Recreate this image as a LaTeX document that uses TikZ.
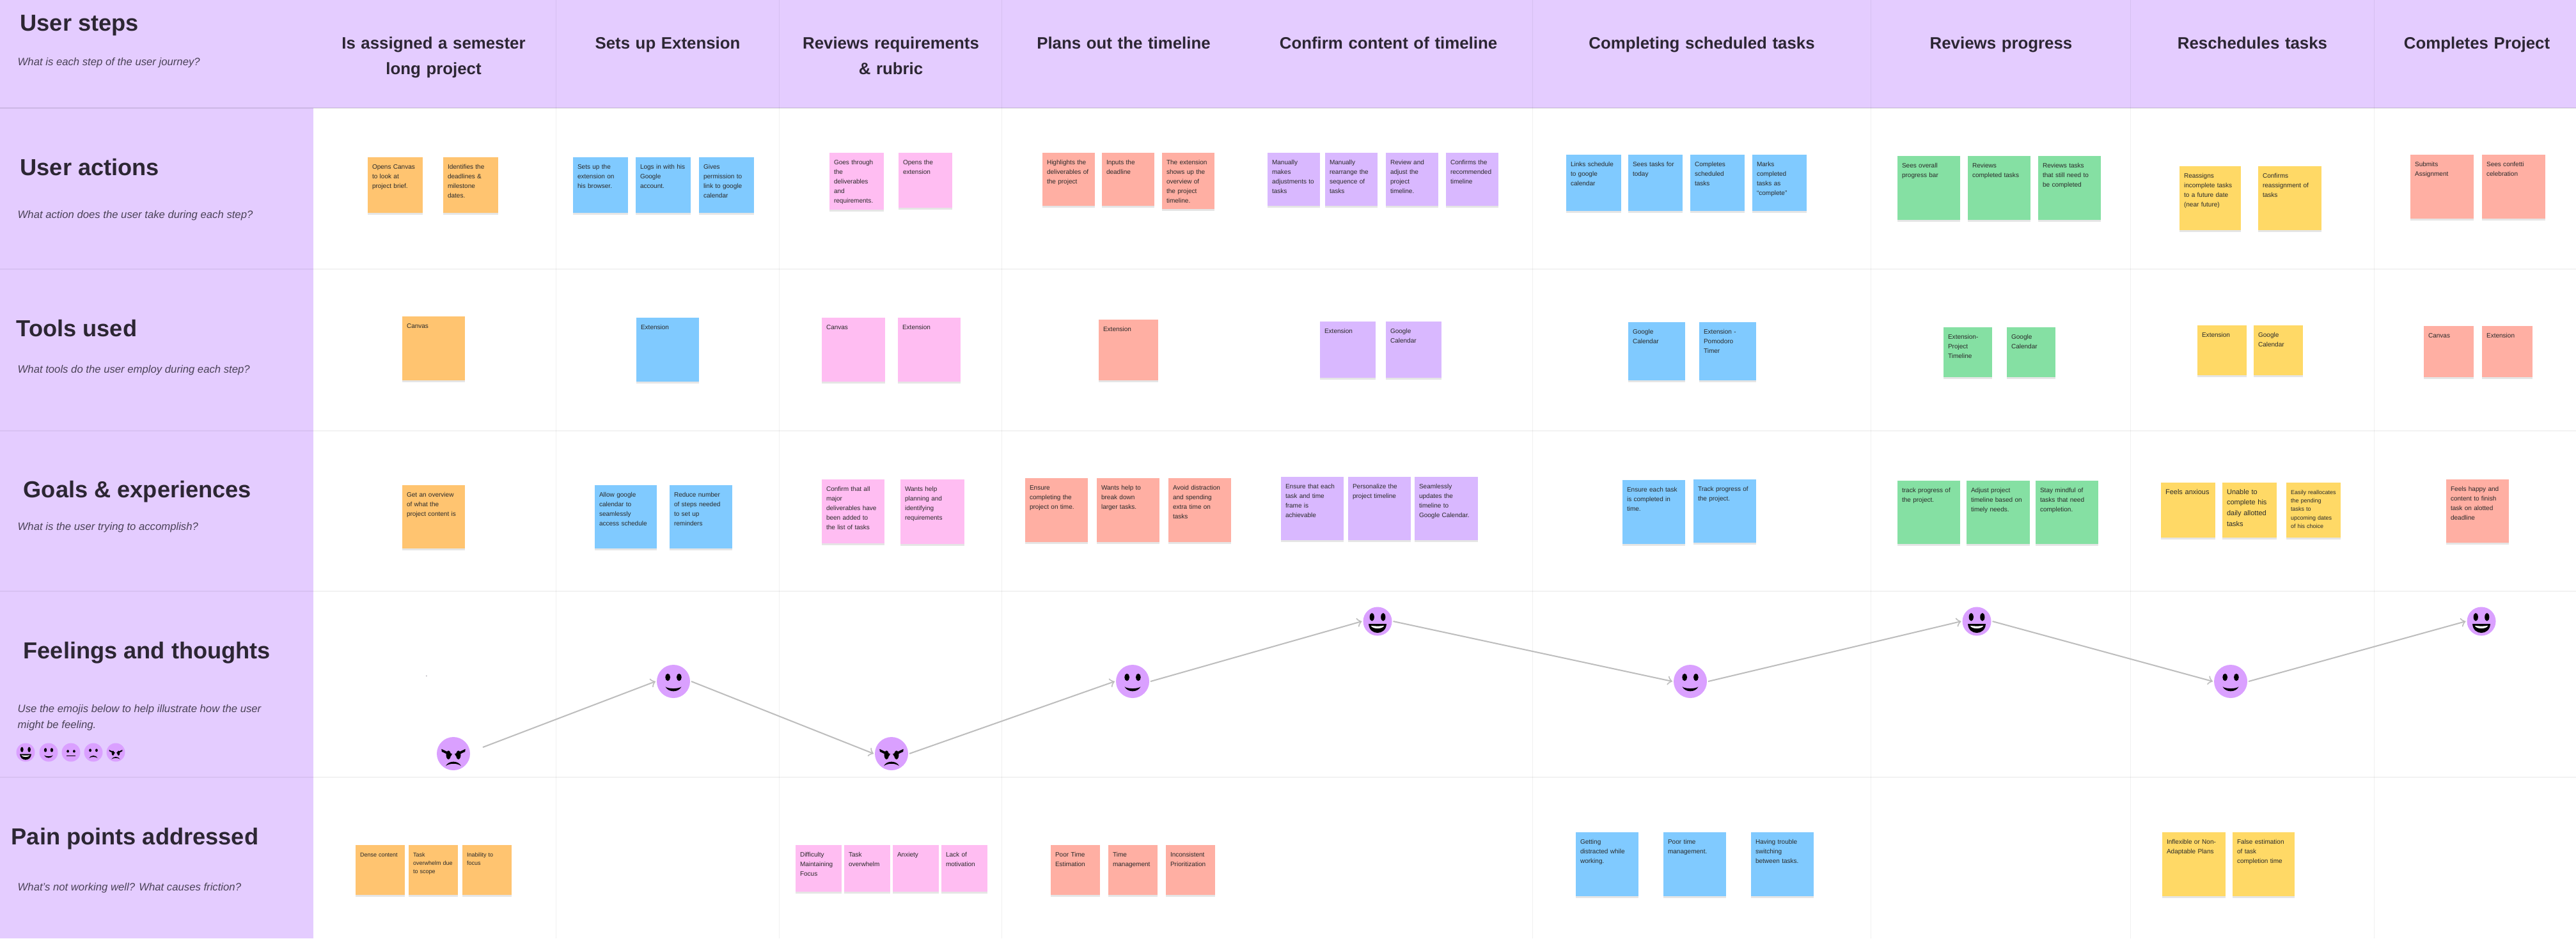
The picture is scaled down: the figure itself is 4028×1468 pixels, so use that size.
\documentclass[tikz,border=0pt]{standalone}
\usepackage{fontspec}
\setmainfont{Liberation Sans}
\usetikzlibrary{arrows,shadows}

\definecolor{headbg}{HTML}{E4CCFF}
\definecolor{inktitle}{HTML}{2C2633}
\definecolor{inksub}{HTML}{4A4257}
\definecolor{inknote}{HTML}{2A2A2A}
\definecolor{orangenote}{HTML}{FFC470}
\definecolor{bluenote}{HTML}{80CAFF}
\definecolor{pinknote}{HTML}{FFBDF2}
\definecolor{salmonnote}{HTML}{FFAFA3}
\definecolor{violetnote}{HTML}{D9B8FF}
\definecolor{greennote}{HTML}{85E0A3}
\definecolor{yellownote}{HTML}{FFD966}
\definecolor{facebg}{HTML}{DAA0FF}
\definecolor{flowline}{HTML}{BDBDBD}

\tikzset{
	note/.style n args={3}{fill=#1, anchor=north west, align=left, text=inknote,
		inner xsep=.07cm, inner ysep=0pt, outer sep=0pt,
		font=\fontsize{2.85}{4.27}\selectfont,
		text width=#2*.01cm-.14cm, text height=.18cm, text depth=#3*.01cm-.18cm,
		drop shadow={shadow xshift=0cm,shadow yshift=-.03cm,opacity=.1,fill=black}},
	notesmall/.style={font=\fontsize{2.56}{3.8}\selectfont},
	notebig/.style={font=\fontsize{3.13}{4.75}\selectfont},
	rowtitle/.style={anchor=base west, inner sep=0pt, text=inktitle, font=\fontsize{10.3}{12}\bfseries\selectfont},
	rowhint/.style={anchor=base west, inner sep=0pt, align=left, text=inksub, font=\fontsize{4.75}{7.1}\itshape\selectfont},
	stephead/.style={anchor=base, inner sep=0pt, align=center, text width=4.8cm, text=inktitle, font=\fontsize{7.35}{11.4}\bfseries\selectfont},
	face/.style={circle, fill=facebg, inner sep=0pt, outer sep=.02cm, minimum size=#1*.01cm},
	face/.default=52,
	gridline/.style={draw=black, opacity=.06, line width=.01cm},
	rowline/.style={draw=black, opacity=.05, line width=.02cm},
	flow/.style={->, draw=flowline, line width=.02cm},
	happyface/.pic={
		\foreach \s in {-1,1} \fill (\s*.39,-.3) ellipse [x radius=.16, y radius=.28];
		\fill (-.62,.18) -- (.62,.18) .. controls (.6,.6) and (.3,.8) .. (0,.8) .. controls (-.3,.8) and (-.6,.6) .. cycle;
		\fill[white] (-.46,.3) .. controls (-.2,.35) and (.2,.35) .. (.46,.3) .. controls (.35,.56) and (-.35,.56) .. cycle;
	},
	smileface/.pic={
		\foreach \s in {-1,1} \fill (\s*.34,-.25) ellipse [x radius=.15, y radius=.22];
		\fill (-.48,.32) .. controls (-.3,.68) and (.3,.68) .. (.48,.32) .. controls (.3,.46) and (-.3,.46) .. cycle;
	},
	plainface/.pic={
		\foreach \s in {-1,1} \fill (\s*.34,-.12) ellipse [x radius=.13, y radius=.15];
		\fill (-.46,.33) rectangle (.46,.41);
	},
	sadface/.pic={
		\foreach \s in {-1,1} \fill (\s*.34,-.22) ellipse [x radius=.13, y radius=.17];
		\fill (-.46,.62) .. controls (-.3,.26) and (.3,.26) .. (.46,.62) .. controls (.25,.44) and (-.25,.44) .. cycle;
	},
	angryface/.pic={
		\foreach \s in {-1,1} {
			\fill (\s*.72,-.28) -- (\s*.08,.02) -- (\s*.15,.15) -- (\s*.7,-.12) -- cycle;
			\fill (\s*.3,.08) ellipse [x radius=.14, y radius=.26];
		}
		\fill (-.46,.74) .. controls (-.3,.4) and (.3,.4) .. (.46,.74) .. controls (.25,.56) and (-.25,.56) .. cycle;
	},
}

\begin{document}
\begin{tikzpicture}[x=.01cm,y=-.01cm]
	\useasboundingbox (0,0) rectangle (4028,1468);
	\fill[white] (0,0) rectangle (4028,1468);
	\fill[headbg] (0,0) rectangle (4028,169);
	\fill[headbg] (0,169) rectangle (490,1468);

	% grid
	\foreach \x in {869,1218,1566,2396,2925,3331,3712}
		\draw[gridline] (\x,0) -- (\x,1468);
	\foreach \y in {421,674,925,1216}
		\draw[rowline] (0,\y) -- (4028,\y);
	\draw[rowline,opacity=.1] (0,169) -- (4028,169);

	% left column
	\node[rowtitle] (titlesteps) at (31,48) {User steps};
	\node[rowhint] (hintsteps) at (27,102) {What is each step of the user journey?};
	\node[rowtitle] (titleactions) at (31,274) {User actions};
	\node[rowhint] (hintactions) at (27,341) {What action does the user take during each step?};
	\node[rowtitle] (titletools) at (25,526) {Tools used};
	\node[rowhint] (hinttools) at (27,583) {What tools do the user employ during each step?};
	\node[rowtitle] (titlegoals) at (36,778) {Goals \& experiences};
	\node[rowhint] (hintgoals) at (27,829) {What is the user trying to accomplish?};
	\node[rowtitle] (titlefeel) at (36,1030) {Feelings and thoughts};
	\node[rowhint] (hintfeela) at (27,1114) {Use the emojis below to help illustrate how the user};
	\node[rowhint] (hintfeelb) at (27,1139) {might be feeling.};
	\node[rowtitle] (titlepain) at (17,1321) {Pain points addressed};
	\node[rowhint] (hintpain) at (27,1393) {What's not working well? What causes friction?};

	% step titles
	\node[stephead] (step1) at (678,76) {Is assigned a semester\\long project};
	\node[stephead] (step2) at (1044,76) {Sets up Extension};
	\node[stephead] (step3) at (1393,76) {Reviews requirements\\\& rubric};
	\node[stephead] (step4) at (1757,76) {Plans out the timeline};
	\node[stephead] (step5) at (2171,76) {Confirm content of timeline};
	\node[stephead] (step6) at (2661,76) {Completing scheduled tasks};
	\node[stephead] (step7) at (3129,76) {Reviews progress};
	\node[stephead] (step8) at (3522,76) {Reschedules tasks};
	\node[stephead] (step9) at (3873,76) {Completes Project};

	% user actions
	\node[note={orangenote}{86}{87}] (act1a) at (575,246) {Opens Canvas\\to look at\\project brief.};
	\node[note={orangenote}{86}{87}] (act1b) at (693,246) {Identifies the\\deadlines \&\\milestone\\dates.};
	\node[note={bluenote}{86}{87}] (act2a) at (896,246) {Sets up the\\extension on\\his browser.};
	\node[note={bluenote}{86}{87}] (act2b) at (994,246) {Logs in with his\\Google\\account.};
	\node[note={bluenote}{86}{87}] (act2c) at (1093,246) {Gives\\permission to\\link to google\\calendar};
	\node[note={pinknote}{85}{89}] (act3a) at (1297,239) {Goes through\\the\\deliverables\\and\\requirements.};
	\node[note={pinknote}{84}{86}] (act3b) at (1405,239) {Opens the\\extension};
	\node[note={salmonnote}{82}{83}] (act4a) at (1630,239) {Highlights the\\deliverables of\\the project};
	\node[note={salmonnote}{82}{83}] (act4b) at (1723,239) {Inputs the\\deadline};
	\node[note={salmonnote}{82}{88}] (act4c) at (1817,239) {The extension\\shows up the\\overview of\\the project\\timeline.};
	\node[note={violetnote}{82}{83}] (act5a) at (1982,239) {Manually\\makes\\adjustments to\\tasks};
	\node[note={violetnote}{82}{83}] (act5b) at (2072,239) {Manually\\rearrange the\\sequence of\\tasks};
	\node[note={violetnote}{82}{83}] (act5c) at (2167,239) {Review and\\adjust the\\project\\timeline.};
	\node[note={violetnote}{82}{83}] (act5d) at (2261,239) {Confirms the\\recommended\\timeline};
	\node[note={bluenote}{86}{88}] (act6a) at (2449,242) {Links schedule\\to google\\calendar};
	\node[note={bluenote}{85}{88}] (act6b) at (2546,242) {Sees tasks for\\today};
	\node[note={bluenote}{85}{88}] (act6c) at (2643,242) {Completes\\scheduled\\tasks};
	\node[note={bluenote}{85}{88}] (act6d) at (2740,242) {Marks\\completed\\tasks as\\“complete”};
	\node[note={greennote}{98}{100}] (act7a) at (2967,244) {Sees overall\\progress bar};
	\node[note={greennote}{98}{100}] (act7b) at (3077,244) {Reviews\\completed tasks};
	\node[note={greennote}{98}{100}] (act7c) at (3187,244) {Reviews tasks\\that still need to\\be completed};
	\node[note={yellownote}{96}{100}] (act8a) at (3408,260) {Reassigns\\incomplete tasks\\to a future date\\(near future)};
	\node[note={yellownote}{99}{100}] (act8b) at (3531,260) {Confirms\\reassignment of\\tasks};
	\node[note={salmonnote}{99}{100}] (act9a) at (3769,242) {Submits\\Assignment};
	\node[note={salmonnote}{99}{100}] (act9b) at (3881,242) {Sees confetti\\celebration};

	% tools used
	\node[note={orangenote}{98}{100}] (tool1a) at (629,495) {Canvas};
	\node[note={bluenote}{98}{100}] (tool2a) at (995,497) {Extension};
	\node[note={pinknote}{99}{100}] (tool3a) at (1285,497) {Canvas};
	\node[note={pinknote}{98}{100}] (tool3b) at (1404,497) {Extension};
	\node[note={salmonnote}{93}{95}] (tool4a) at (1718,500) {Extension};
	\node[note={violetnote}{87}{88}] (tool5a) at (2064,503) {Extension};
	\node[note={violetnote}{87}{88}] (tool5b) at (2167,503) {Google\\Calendar};
	\node[note={bluenote}{89}{91}] (tool6a) at (2546,504) {Google\\Calendar};
	\node[note={bluenote}{89}{91}] (tool6b) at (2657,504) {Extension -\\Pomodoro\\Timer};
	\node[note={greennote}{76}{78}] (tool7a) at (3039,512) {Extension-\\Project\\Timeline};
	\node[note={greennote}{76}{78}] (tool7b) at (3138,512) {Google\\Calendar};
	\node[note={yellownote}{77}{78}] (tool8a) at (3436,509) {Extension};
	\node[note={yellownote}{77}{78}] (tool8b) at (3524,509) {Google\\Calendar};
	\node[note={salmonnote}{78}{80}] (tool9a) at (3790,510) {Canvas};
	\node[note={salmonnote}{79}{80}] (tool9b) at (3881,510) {Extension};

	% goals and experiences
	\node[note={orangenote}{98}{99}] (goal1a) at (629,759) {Get an overview\\of what the\\project content is};
	\node[note={bluenote}{97}{99}] (goal2a) at (930,759) {Allow google\\calendar to\\seamlessly\\access schedule};
	\node[note={bluenote}{98}{99}] (goal2b) at (1047,759) {Reduce number\\of steps needed\\to set up\\reminders};
	\node[note={pinknote}{98}{100}] (goal3a) at (1285,750) {Confirm that all\\major\\deliverables have\\been added to\\the list of tasks};
	\node[note={pinknote}{100}{101}] (goal3b) at (1408,750) {Wants help\\planning and\\identifying\\requirements};
	\node[note={salmonnote}{98}{100}] (goal4a) at (1603,748) {Ensure\\completing the\\project on time.};
	\node[note={salmonnote}{98}{100}] (goal4b) at (1715,748) {Wants help to\\break down\\larger tasks.};
	\node[note={salmonnote}{98}{100}] (goal4c) at (1827,748) {Avoid distraction\\and spending\\extra time on\\tasks};
	\node[note={violetnote}{98}{99}] (goal5a) at (2003,746) {Ensure that each\\task and time\\frame is\\achievable};
	\node[note={violetnote}{98}{99}] (goal5b) at (2108,746) {Personalize the\\project timeline};
	\node[note={violetnote}{99}{99}] (goal5c) at (2212,746) {Seamlessly\\updates the\\timeline to\\Google Calendar.};
	\node[note={bluenote}{98}{100}] (goal6a) at (2537,751) {Ensure each task\\is completed in\\time.};
	\node[note={bluenote}{98}{99}] (goal6b) at (2648,750) {Track progress of\\the project.};
	\node[note={greennote}{98}{99}] (goal7a) at (2967,752) {track progress of\\the project.};
	\node[note={greennote}{99}{99}] (goal7b) at (3075,752) {Adjust project\\timeline based on\\timely needs.};
	\node[note={greennote}{98}{99}] (goal7c) at (3183,752) {Stay mindful of\\tasks that need\\completion.};
	\node[note={yellownote}{85}{86},notebig] (goal8a) at (3379,755) {Feels anxious};
	\node[note={yellownote}{85}{86},notebig] (goal8b) at (3475,755) {Unable to\\complete his\\daily allotted\\tasks};
	\node[note={yellownote}{85}{86},notesmall] (goal8c) at (3575,755) {Easily reallocates\\the pending\\tasks to\\upcoming dates\\of his choice};
	\node[note={salmonnote}{98}{99}] (goal9a) at (3825,750) {Feels happy and\\content to finish\\task on alotted\\deadline};

	% feelings curve
	\node[face] (feel1) at (709,1179) {};
	\node[face] (feel2) at (1053,1066) {};
	\node[face] (feel3) at (1394,1179) {};
	\node[face] (feel4) at (1771,1066) {};
	\node[face=45] (feel5) at (2154,972) {};
	\node[face] (feel6) at (2643,1066) {};
	\node[face=45] (feel7) at (3091,972) {};
	\node[face] (feel8) at (3488,1066) {};
	\node[face=45] (feel9) at (3880,972) {};
	\pic[scale=26] at (feel1) {angryface};
	\pic[scale=26] at (feel2) {smileface};
	\pic[scale=26] at (feel3) {angryface};
	\pic[scale=26] at (feel4) {smileface};
	\pic[scale=22.5] at (feel5) {happyface};
	\pic[scale=26] at (feel6) {smileface};
	\pic[scale=22.5] at (feel7) {happyface};
	\pic[scale=26] at (feel8) {smileface};
	\pic[scale=22.5] at (feel9) {happyface};
	\coordinate (feelstart) at (755,1169);
	\draw[flow] (feelstart) -- (feel2.west);
	\draw[flow] (feel2.east) -- (feel3.west);
	\draw[flow] (feel3.east) -- (feel4.west);
	\draw[flow] (feel4.east) -- (feel5.west);
	\draw[flow] (feel5.east) -- (feel6.west);
	\draw[flow] (feel6.east) -- (feel7.west);
	\draw[flow] (feel7.east) -- (feel8.west);
	\draw[flow] (feel8.east) -- (feel9.west);
	\node[anchor=base, inner sep=0pt, text=inksub, font=\fontsize{2.85}{4}\selectfont] (straydot) at (667,1058) {.};

	% emoji legend
	\node[face=29] (legend1) at (40,1177) {};
	\node[face=29] (legend2) at (76,1177) {};
	\node[face=29] (legend3) at (111,1177) {};
	\node[face=29] (legend4) at (146,1177) {};
	\node[face=29] (legend5) at (181,1177) {};
	\pic[scale=14.5] at (legend1) {happyface};
	\pic[scale=14.5] at (legend2) {smileface};
	\pic[scale=14.5] at (legend3) {plainface};
	\pic[scale=14.5] at (legend4) {sadface};
	\pic[scale=14.5] at (legend5) {angryface};

	% pain points
	\node[note={orangenote}{77}{78},notesmall] (pain1a) at (556,1322) {Dense content};
	\node[note={orangenote}{77}{78},notesmall] (pain1b) at (639,1322) {Task\\overwhelm due\\to scope};
	\node[note={orangenote}{77}{78},notesmall] (pain1c) at (723,1322) {Inability to\\focus};
	\node[note={pinknote}{72}{73}] (pain3a) at (1244,1322) {Difficulty\\Maintaining\\Focus};
	\node[note={pinknote}{72}{73}] (pain3b) at (1320,1322) {Task\\overwhelm};
	\node[note={pinknote}{72}{73}] (pain3c) at (1396,1322) {Anxiety};
	\node[note={pinknote}{72}{73}] (pain3d) at (1472,1322) {Lack of\\motivation};
	\node[note={salmonnote}{77}{78}] (pain4a) at (1643,1322) {Poor Time\\Estimation};
	\node[note={salmonnote}{77}{78}] (pain4b) at (1733,1322) {Time\\management};
	\node[note={salmonnote}{77}{78}] (pain4c) at (1823,1322) {Inconsistent\\Prioritization};
	\node[note={bluenote}{98}{100}] (pain6a) at (2464,1302) {Getting\\distracted while\\working.};
	\node[note={bluenote}{98}{100}] (pain6b) at (2601,1302) {Poor time\\management.};
	\node[note={bluenote}{98}{100}] (pain6c) at (2738,1302) {Having trouble\\switching\\between tasks.};
	\node[note={yellownote}{99}{100}] (pain8a) at (3381,1302) {Inflexible or Non-\\Adaptable Plans};
	\node[note={yellownote}{97}{100}] (pain8b) at (3491,1302) {False estimation\\of task\\completion time};
\end{tikzpicture}
\end{document}
